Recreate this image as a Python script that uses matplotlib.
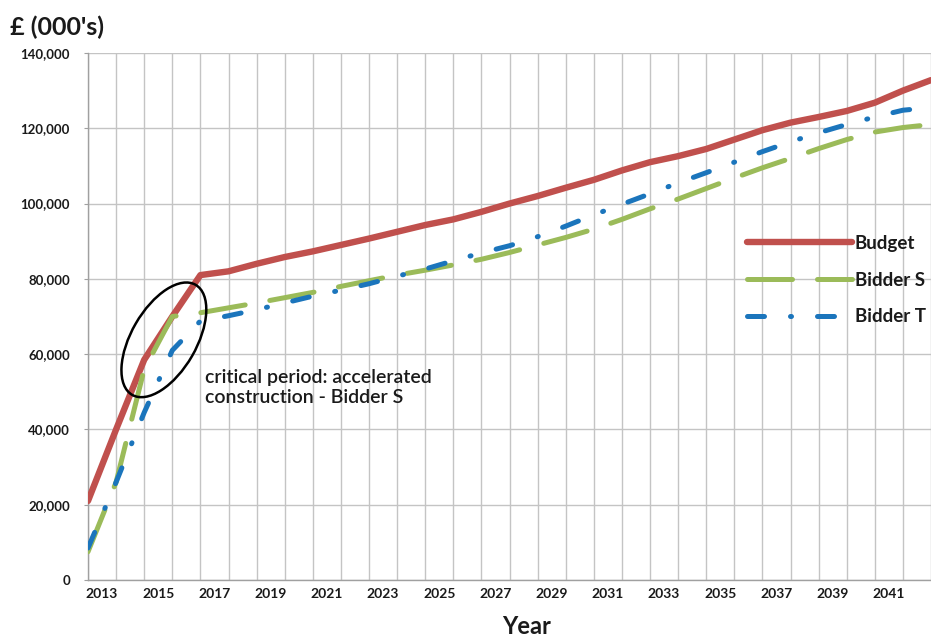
import matplotlib
matplotlib.use('Agg')
import matplotlib.pyplot as plt
import matplotlib.transforms as mtransforms
from matplotlib.patches import Ellipse

# values in £000's, one point per year (the last point sits past the cropped edge)
years = list(range(2013, 2044))
budget = [21000, 40000, 58500, 70000, 81000, 82000, 84000, 85800, 87300, 89000,
          90700, 92500, 94300, 95800, 97800, 100000, 102000, 104200, 106300, 108800,
          111000, 112600, 114500, 117000, 119500, 121500, 123000, 124600, 126800, 130000,
          132800]
bidder_s = [7500, 26000, 56000, 70000, 71000, 72300, 73600, 75000, 76400, 78000,
            79500, 81000, 82300, 83700, 85200, 87000, 89000, 91000, 93200, 95800,
            98600, 101200, 104000, 106800, 109500, 112000, 114600, 117000, 119000, 120200,
            121000]
bidder_t = [8500, 26000, 44500, 61000, 68800, 70200, 71800, 73600, 75400, 77000,
            78700, 80700, 82600, 84800, 86900, 88800, 91200, 94000, 97000, 99800,
            102600, 105500, 108200, 111000, 113800, 116400, 118800, 121000, 123000, 124800,
            125500]

label_years = list(range(2013, 2042, 2))
y_ticks = list(range(0, 140001, 20000))

plt.rcParams['font.family'] = ['Lato', 'DejaVu Sans']
text_col = '#1a1a1a'
grid_col = '#C4C4C4'

fig = plt.figure(figsize=(9.31, 6.37), dpi=100)
ax = fig.add_axes([88 / 931, 1 - 580 / 637, 1 - 88 / 931, (580 - 53) / 637])

ax.plot(years, budget, color='#C0504D', lw=4.6, solid_capstyle='round',
        solid_joinstyle='round', label='Budget', zorder=3)
ax.plot(years, bidder_s, color='#9BBB59', lw=3.6, dashes=(9.0, 5.0),
        dash_capstyle='round', label='Bidder S', zorder=4)
ax.plot(years, bidder_t, color='#1B75BC', lw=3.6, dashes=(3.4, 5.2, 0.2, 5.2),
        dash_capstyle='round', label='Bidder T', zorder=5)

# critical period ellipse
cx, cy = 2015.7, 63800
ell = Ellipse((0, 0), 1.27, 0.65, angle=60, fill=False, ec='black', lw=1.8,
              transform=fig.dpi_scale_trans + mtransforms.ScaledTranslation(cx, cy, ax.transData),
              zorder=6)
ax.add_patch(ell)
ax.text(2017.15, 51100, 'critical period: accelerated\nconstruction - Bidder S',
        ha='left', va='center', fontsize=14, fontweight=600, color=text_col, linespacing=1.25)

ax.set_xlim(2013, 2013 + (931 - 88) / 28.46)
ax.set_ylim(0, 140000)

ax.set_xticks(years)
ax.set_xticklabels([])
ax.set_xticks([y + 0.5 for y in label_years], minor=True)
ax.set_xticklabels([str(y) for y in label_years], minor=True)
ax.tick_params(axis='x', which='both', length=0, pad=6)
ax.tick_params(axis='x', which='minor', labelsize=10, labelcolor=text_col)
for t in ax.get_xticklabels(minor=True):
    t.set_fontweight('bold')

ax.set_yticks(y_ticks)
ax.set_yticklabels([f'{v:,}' for v in y_ticks])
ax.tick_params(axis='y', length=3, color='#A0A0A0', pad=10, labelsize=9.5, labelcolor=text_col)
for t in ax.get_yticklabels():
    t.set_fontweight('bold')

ax.grid(True, which='major', color=grid_col, lw=1)
ax.set_axisbelow(True)
for s in ['top', 'right']:
    ax.spines[s].set_visible(False)
for s in ['left', 'bottom']:
    ax.spines[s].set_color('#A0A0A0')
    ax.spines[s].set_linewidth(1)

ax.legend(loc='upper left', bbox_to_anchor=(747 / 931, 1 - 235 / 637),
          bbox_transform=fig.transFigure, frameon=False, handlelength=5.6,
          handletextpad=0.15, labelspacing=1.05, borderpad=0, borderaxespad=0,
          prop={'size': 13.5, 'weight': 'bold'}, labelcolor=text_col)

fig.text(10 / 931, 1 - 27 / 637, "£ (000's)", ha='left', va='center',
         fontsize=18, fontweight='bold', color=text_col)
fig.text(527 / 931, 1 - 626 / 637, 'Year', ha='center', va='center',
         fontsize=17, fontweight='bold', color=text_col)

fig.savefig('out.png', dpi=100)
